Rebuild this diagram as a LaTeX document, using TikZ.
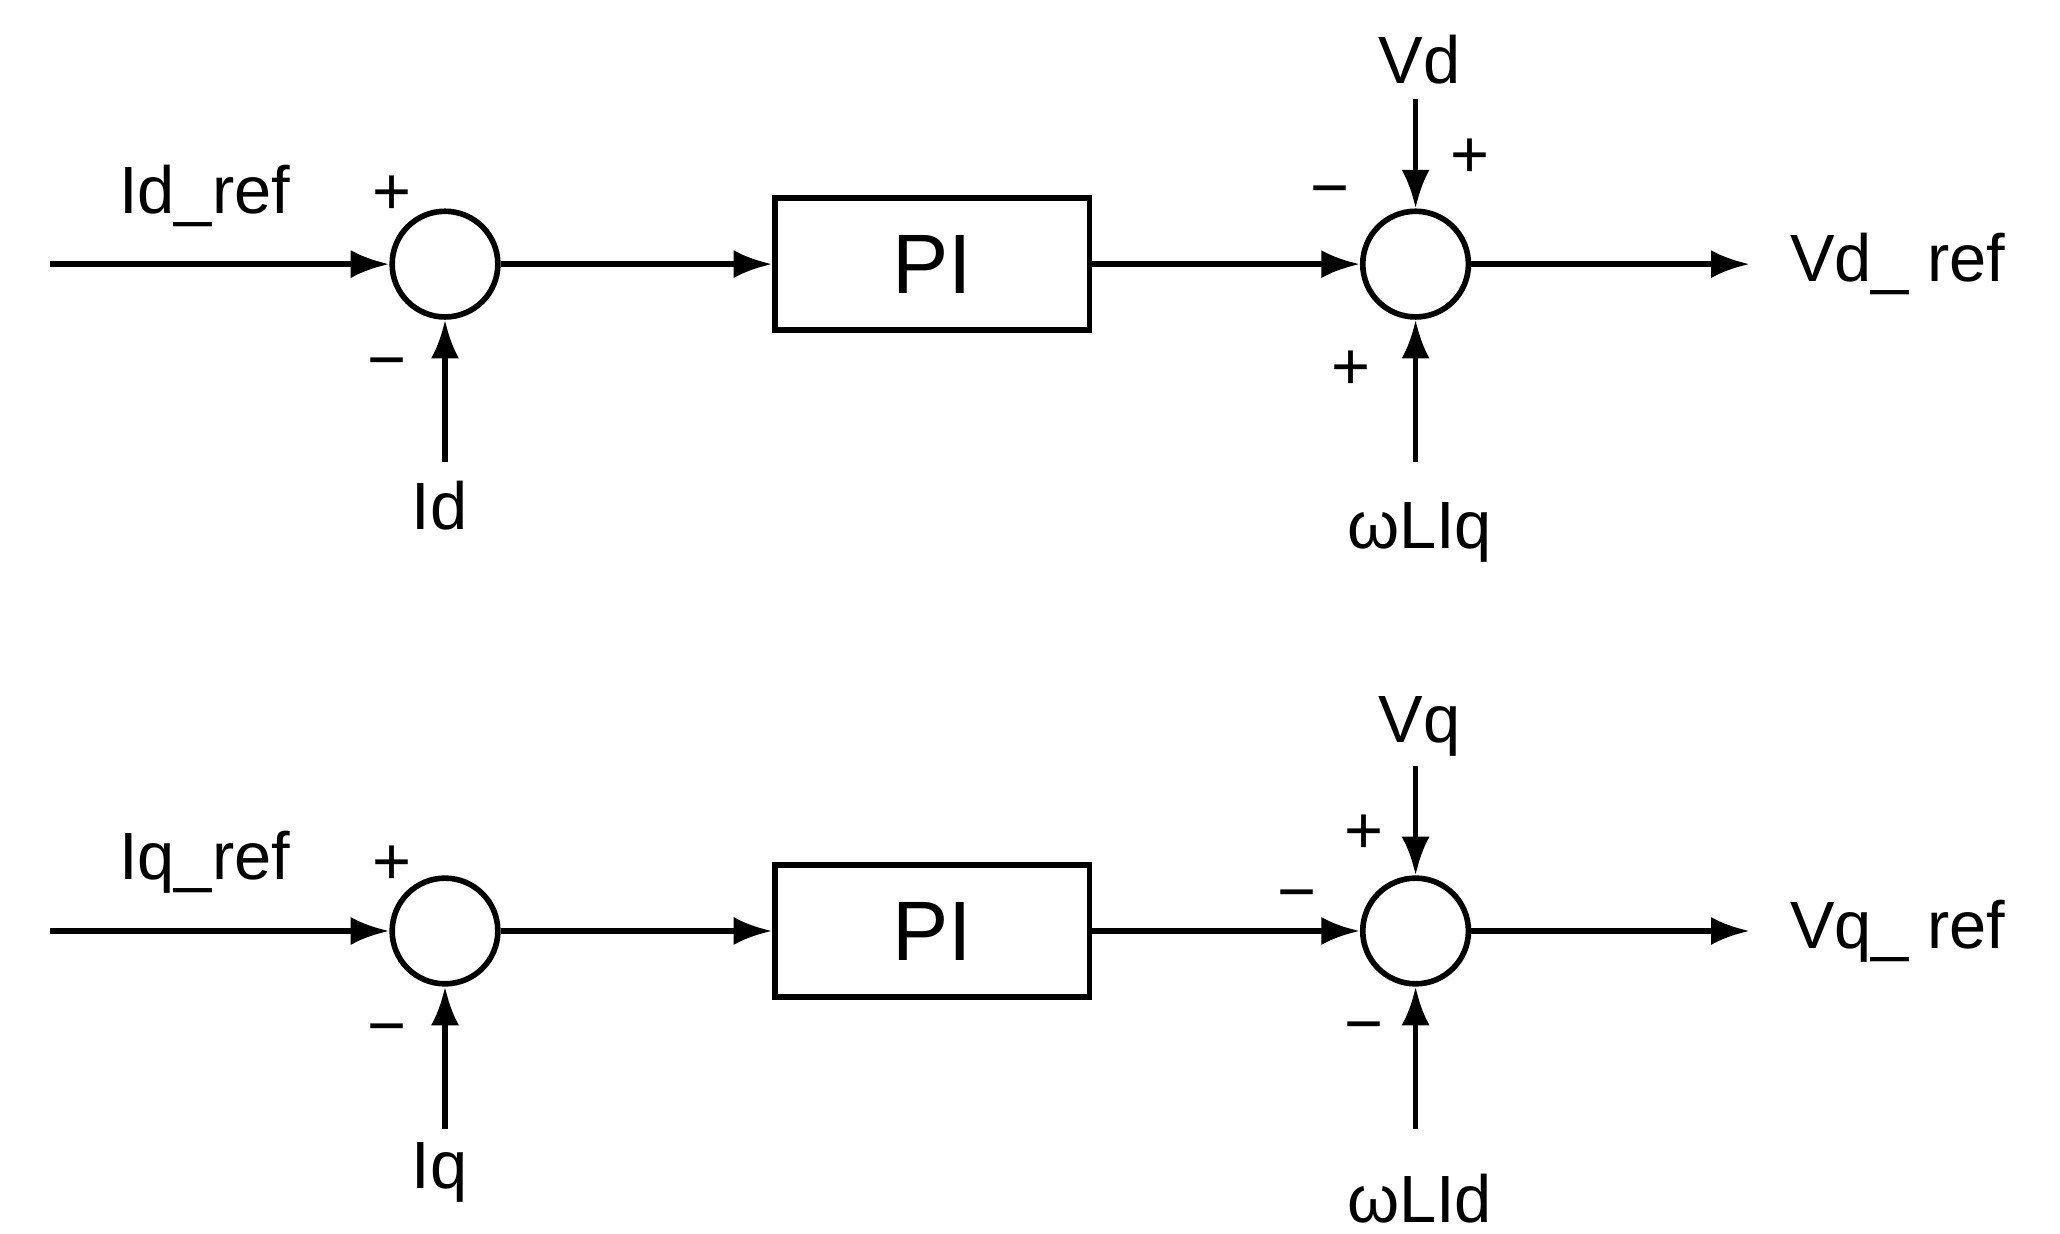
\documentclass[tikz,border=0pt]{standalone}
\usepackage{fontspec}
\setmainfont{Liberation Sans}
\usetikzlibrary{arrows.meta}
\begin{document}
\begin{tikzpicture}[x=0.013205cm,y=-0.013205cm,
  every node/.style={font=\fontsize{19}{22}\selectfont},
  sum/.style={draw,circle,line width=1.6pt,minimum size=80*0.13205mm,inner sep=0},
  blk/.style={draw,line width=1.6pt,minimum width=238*0.13205mm,minimum height=100*0.13205mm,font=\fontsize{24}{26}\selectfont},
  sig/.style={line width=1.6pt,-{Latex[length=11pt,width=8pt]}},
  lbl/.style={inner sep=0}]
\useasboundingbox (0,0) rectangle (1560,934);
\foreach \r/\y/\inp/\fb/\top/\bot/\out/\pa/\pb in
 {d/200/Id\_ref/Id/Vd/ωLIq/Vd\_ ref/148/280,
  q/705/Iq\_ref/Iq/Vq/ωLId/Vq\_ ref/655/785}{
  \node[sum] (s1\r) at (337,\y) {};
  \node[blk] (pi\r) at (706,\y) {PI};
  \node[sum] (s2\r) at (1072,\y) {};
  \coordinate (in\r) at (38,\y);
  \coordinate (o\r) at (1325,\y);
  \coordinate (fb\r) at (337,\y+150);
  \coordinate (tp\r) at (1072,\y-125);
  \coordinate (bt\r) at (1072,\y+150);
  \draw[sig] (in\r) -- (s1\r);
  \draw[sig] (s1\r) -- (pi\r);
  \draw[sig] (pi\r) -- (s2\r);
  \draw[sig] (s2\r) -- (o\r);
  \draw[sig] (fb\r) -- (s1\r);
  \draw[sig] (tp\r) -- (s2\r);
  \draw[sig] (bt\r) -- (s2\r);
  \node[lbl] (li\r) at (155,\y-52) {\inp};
  \node[lbl] (lf\r) at (333,\y+183) {\fb};
  \node[lbl] (lt\r) at (1075,\y-155) {\top};
  \node[lbl] (lb\r) at (1075,\y+203) {\bot};
  \node[lbl,anchor=west] (lo\r) at (1355,\y) {\out};
  \node[lbl] (p1\r) at (297,\pa) {+};
  \node[lbl] (m1\r) at (293,\pb) {\textminus};
}
\node[lbl] at (1113,120) {+};
\node[lbl] at (1007,150) {\textminus};
\node[lbl] at (1023,280) {+};
\node[lbl] at (1033,632) {+};
\node[lbl] at (982,683) {\textminus};
\node[lbl] at (1033,783) {\textminus};
\end{tikzpicture}
\end{document}
